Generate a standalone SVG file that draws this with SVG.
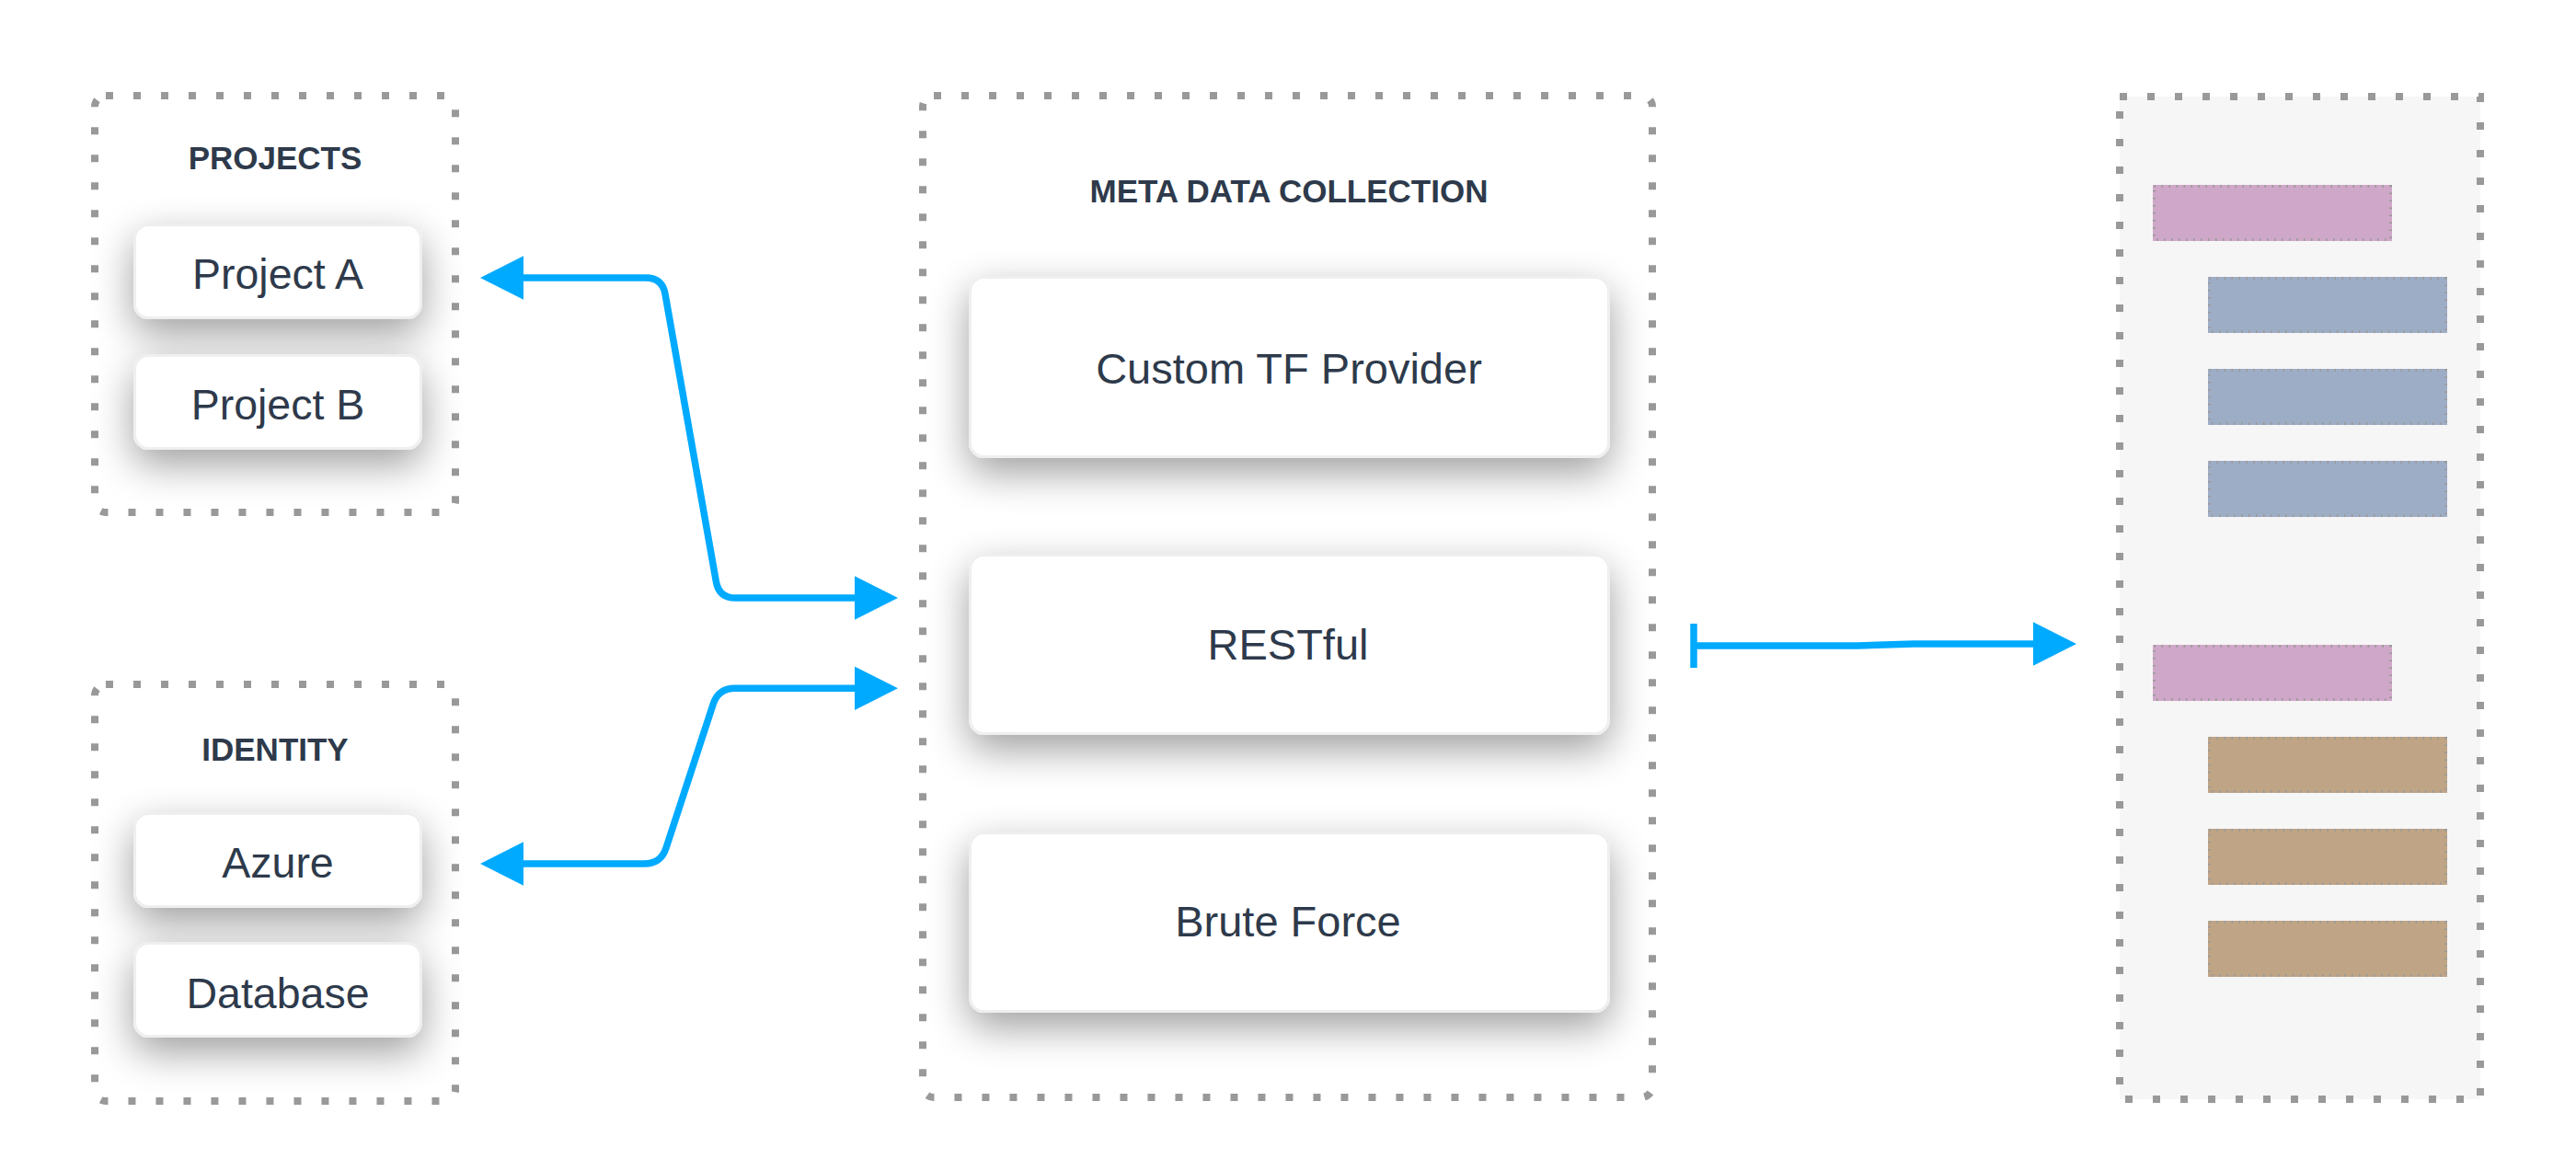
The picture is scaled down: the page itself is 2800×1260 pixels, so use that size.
<svg xmlns="http://www.w3.org/2000/svg" width="2800" height="1260" viewBox="0 0 2800 1260">
<style>
.bg{fill:#ffffff}
.cont{fill:none;stroke:#999999;stroke-width:8;stroke-dasharray:8 22}
.panel{fill:#f6f6f6;stroke:#999999;stroke-width:8;stroke-dasharray:8 22}
.node{fill:#ffffff;stroke:#efefef;stroke-width:3}
.title{font-family:"Liberation Sans",Arial,sans-serif;font-weight:bold;font-size:35px;fill:#2e3a4b;text-anchor:middle}
.lbl{font-family:"Liberation Sans",Arial,sans-serif;font-size:46.5px;fill:#2e3a4b;text-anchor:middle}
.lblm{font-family:"Liberation Sans",Arial,sans-serif;font-size:47px;fill:#2e3a4b;text-anchor:middle}
.edge{fill:none;stroke:#00aaff;stroke-width:7.5;stroke-linejoin:round}
.bar{stroke:#999999;stroke-width:3;stroke-dasharray:1.5 6.5}
.pink{fill:#cfa7c8}
.blue{fill:#9eadc6}
.brown{fill:#bfa486}
</style>
<defs>
<filter id="sh" x="-0.35" y="-0.7" width="1.7" height="2.5">
<feGaussianBlur in="SourceAlpha" stdDeviation="22"/>
<feOffset dy="16" result="b"/>
<feComponentTransfer><feFuncA type="linear" slope="0.38"/></feComponentTransfer>
<feMerge><feMergeNode/><feMergeNode in="SourceGraphic"/></feMerge>
</filter>
<marker id="arr" markerUnits="userSpaceOnUse" markerWidth="48" markerHeight="48" refX="0" refY="23.7" orient="auto-start-reverse" viewBox="0 0 48 48">
<path d="M0,0 L47,23.7 L0,47.4 Z" fill="#00aaff"/>
</marker>
<marker id="tee" markerUnits="userSpaceOnUse" markerWidth="8" markerHeight="48" refX="3.75" refY="24" orient="auto" viewBox="0 0 8 48">
<rect x="0" y="0" width="7.5" height="48" fill="#00aaff"/>
</marker>
</defs>
<rect class="bg" x="0" y="0" width="2800" height="1260"/>

<g id="projects">
<rect class="cont" x="103" y="104" width="392" height="453" rx="12"/>
<text class="title" x="299" y="184">PROJECTS</text>
</g>
<g id="project-a">
<rect class="node" x="146.5" y="244.5" width="311" height="101" rx="15" filter="url(#sh)"/>
<text class="lbl" x="302" y="314">Project A</text>
</g>
<g id="project-b">
<rect class="node" x="146.5" y="386.5" width="311" height="101" rx="15" filter="url(#sh)"/>
<text class="lbl" x="302" y="456">Project B</text>
</g>

<g id="identity">
<rect class="cont" x="103" y="744" width="392" height="453" rx="12"/>
<text class="title" x="299" y="827">IDENTITY</text>
</g>
<g id="azure">
<rect class="node" x="146.5" y="884.5" width="311" height="101" rx="15" filter="url(#sh)"/>
<text class="lbl" x="302" y="954">Azure</text>
</g>
<g id="database">
<rect class="node" x="146.5" y="1025.5" width="311" height="101" rx="15" filter="url(#sh)"/>
<text class="lbl" x="302" y="1096">Database</text>
</g>

<g id="meta-data-collection">
<rect class="cont" x="1003" y="104" width="793" height="1089" rx="12"/>
<text class="title" x="1401" y="220">META DATA COLLECTION</text>
</g>
<g id="custom-tf-provider">
<rect class="node" x="1054.5" y="301.5" width="694" height="195" rx="15" filter="url(#sh)"/>
<text class="lblm" x="1401" y="417">Custom TF Provider</text>
</g>
<g id="restful">
<rect class="node" x="1054.5" y="603.5" width="694" height="194" rx="15" filter="url(#sh)"/>
<text class="lblm" x="1400" y="717">RESTful</text>
</g>
<g id="brute-force">
<rect class="node" x="1054.5" y="905.5" width="694" height="194" rx="15" filter="url(#sh)"/>
<text class="lblm" x="1400" y="1018">Brute Force</text>
</g>

<g id="output-panel">
<rect class="panel" x="2304" y="105" width="392" height="1090"/>
<rect class="pink" x="2340" y="201" width="260" height="61"/>
<rect class="bar" fill="none" x="2341.5" y="202.5" width="257" height="58"/>
<rect class="blue" x="2400" y="301" width="260" height="61"/>
<rect class="bar" fill="none" x="2401.5" y="302.5" width="257" height="58"/>
<rect class="blue" x="2400" y="401" width="260" height="61"/>
<rect class="bar" fill="none" x="2401.5" y="402.5" width="257" height="58"/>
<rect class="blue" x="2400" y="501" width="260" height="61"/>
<rect class="bar" fill="none" x="2401.5" y="502.5" width="257" height="58"/>
<rect class="pink" x="2340" y="701" width="260" height="61"/>
<rect class="bar" fill="none" x="2341.5" y="702.5" width="257" height="58"/>
<rect class="brown" x="2400" y="801" width="260" height="61"/>
<rect class="bar" fill="none" x="2401.5" y="802.5" width="257" height="58"/>
<rect class="brown" x="2400" y="901" width="260" height="61"/>
<rect class="bar" fill="none" x="2401.5" y="902.5" width="257" height="58"/>
<rect class="brown" x="2400" y="1001" width="260" height="61"/>
<rect class="bar" fill="none" x="2401.5" y="1002.5" width="257" height="58"/>
</g>

<g id="connectors">
<path class="edge" d="M569,302 L702,302 Q720,302 723,319.7 L778.4,632.3 Q781.5,650 799.5,650 L929,650" marker-start="url(#arr)" marker-end="url(#arr)"/>
<path class="edge" d="M569,939 L700.4,939 Q718.4,939 724,921.9 L775.2,765.4 Q780.8,748.3 798.8,748.3 L929,748.3" marker-start="url(#arr)" marker-end="url(#arr)"/>
<path class="edge" d="M1841,702 L2019,702 L2080,700 L2210,700" marker-start="url(#tee)" marker-end="url(#arr)"/>
</g>
</svg>
